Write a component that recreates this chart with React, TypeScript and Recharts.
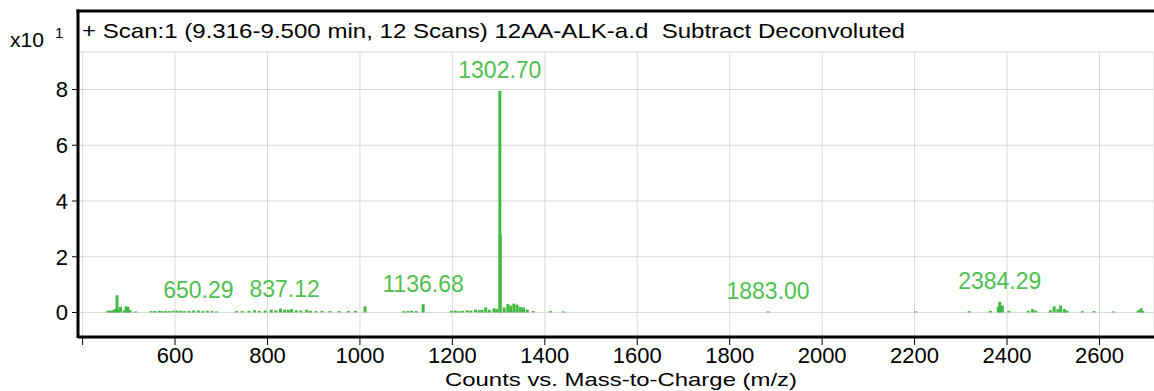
import React from "react";
import {
  ComposedChart,
  Scatter,
  ErrorBar,
  LabelList,
  XAxis,
  YAxis,
  CartesianGrid,
} from "recharts";

// deconvoluted stick spectrum, intensities in units of x10^1 counts
const PEAK_MZ = [
  455, 460, 466, 470, 474.5, 478, 482, 490, 494, 498, 503, 515,
  548, 556, 566, 572, 580, 588, 596, 604, 612, 620, 630, 640, 650.29, 660, 670, 680, 690,
  733, 745, 760, 772, 782, 795, 808, 818, 828, 837.12, 845, 852, 862, 872, 885, 893, 905, 918, 935, 955, 975, 990, 1011,
  1095, 1104, 1112, 1122, 1136.68,
  1198, 1206, 1214, 1222, 1232, 1240, 1250, 1258, 1264, 1272, 1280, 1290, 1296,
  1302.7, 1303.6, 1312, 1320, 1326, 1333, 1340, 1347, 1354, 1362, 1375, 1412, 1440,
  1883.0,
  2202, 2318, 2364, 2381, 2384.29, 2390, 2404, 2446, 2455, 2462,
  2494, 2502, 2510, 2516, 2524, 2530, 2563, 2588, 2630, 2684, 2690, 2694,
];
const PEAK_HEIGHT = [
  0.06, 0.07, 0.08, 0.12, 0.62, 0.1, 0.2, 0.08, 0.22, 0.2, 0.08, 0.04,
  0.05, 0.05, 0.06, 0.05, 0.06, 0.05, 0.06, 0.07, 0.06, 0.05, 0.06, 0.07, 0.07, 0.05, 0.06, 0.05, 0.04,
  0.05, 0.05, 0.06, 0.08, 0.06, 0.07, 0.1, 0.08, 0.14, 0.1, 0.1, 0.12, 0.08, 0.07, 0.1, 0.06, 0.05, 0.06, 0.05, 0.05, 0.05, 0.06, 0.22,
  0.05, 0.05, 0.06, 0.05, 0.3,
  0.06, 0.07, 0.05, 0.06, 0.08, 0.07, 0.1, 0.08, 0.09, 0.18, 0.1, 0.15, 0.12,
  7.95, 2.82, 0.18, 0.3, 0.25, 0.32, 0.28, 0.2, 0.18, 0.1, 0.05, 0.05, 0.04,
  0.04,
  0.04, 0.05, 0.06, 0.2, 0.38, 0.25, 0.06, 0.06, 0.12, 0.07,
  0.08, 0.22, 0.12, 0.25, 0.12, 0.06, 0.05, 0.05, 0.04, 0.08, 0.15, 0.05,
];
const LABELED_MZ = [650.29, 837.12, 1136.68, 1302.7, 1883.0, 2384.29];

const X_TICKS = [400, 600, 800, 1000, 1200, 1400, 1600, 1800, 2000, 2200, 2400, 2600];
const Y_TICKS = [0, 2, 4, 6, 8];

const FONT = "Arial, 'Liberation Sans', Helvetica, sans-serif";
const GREEN = "#42b942";
const LABEL_GREEN = "#4fbf4f";

const peaks = PEAK_MZ.map((mz, i) => ({ mz, base: 0, err: [0, PEAK_HEIGHT[i]] }));
const labeled = LABELED_MZ.map((mz) => ({
  mz,
  h: PEAK_HEIGHT[PEAK_MZ.indexOf(mz)],
  label: mz.toFixed(2),
}));

// 400 gets a tick mark but no label, like the original
const XTick = ({ x, y, payload }: any) => {
  if (payload.value === 400) return null;
  return (
    <text x={x} y={y} dy="0.71em" textAnchor="middle" fontSize={22} fill="#000" fontFamily={FONT}>
      {payload.value}
    </text>
  );
};

export default function App() {
  return (
    <div style={{ position: "absolute", left: 0, top: 0, width: 1154, height: 391, background: "#fff" }}>
      <ComposedChart
        width={1154}
        height={391}
        margin={{ top: 52, right: 0, bottom: 0, left: 0 }}
        style={{ fontFamily: FONT }}
      >
        <CartesianGrid stroke="#d9d9d9" strokeWidth={1} />
        <XAxis
          type="number"
          dataKey="mz"
          domain={[390, 2718]}
          ticks={X_TICKS}
          allowDataOverflow
          height={54}
          tickSize={8}
          tickMargin={2}
          tick={<XTick />}
          axisLine={{ stroke: "#000", strokeWidth: 3 }}
          tickLine={{ stroke: "#000", strokeWidth: 1 }}
        />
        <YAxis
          type="number"
          domain={[-0.879, 9.345]}
          ticks={Y_TICKS}
          allowDataOverflow
          width={78}
          axisLine={false}
          tickSize={6}
          tickMargin={4}
          tickLine={{ stroke: "#000", strokeWidth: 1 }}
          tick={{ fontSize: 22, fill: "#000" }}
        />
        <Scatter data={peaks} dataKey="base" shape={() => <g />} isAnimationActive={false}>
          <ErrorBar
            dataKey="err"
            direction="y"
            width={0}
            stroke={GREEN}
            strokeWidth={3}
            isAnimationActive={false}
          />
        </Scatter>
        <Scatter data={labeled} dataKey="h" shape={() => <g />} isAnimationActive={false}>
          <LabelList
            dataKey="label"
            position="top"
            offset={8}
            fill={LABEL_GREEN}
            fontSize={23}
            fontFamily={FONT}
          />
        </Scatter>
      </ComposedChart>
      <svg
        width={1154}
        height={391}
        style={{ position: "absolute", left: 0, top: 0, pointerEvents: "none" }}
      >
        <line x1={78} y1={9.5} x2={78} y2={338} stroke="#000" strokeWidth={3} />
        <line x1={76.5} y1={11} x2={1154} y2={11} stroke="#000" strokeWidth={3} />
        <text
          x={82}
          y={38}
          fontSize={21}
          fontFamily={FONT}
          fill="#000"
          textLength={823}
          lengthAdjust="spacingAndGlyphs"
          style={{ whiteSpace: "pre" }}
        >
          + Scan:1 (9.316-9.500 min, 12 Scans) 12AA-ALK-a.d  Subtract Deconvoluted
        </text>
        <text x={10} y={47} fontSize={21} fontFamily={FONT} fill="#000">x10</text>
        <text x={55} y={38} fontSize={15} fontFamily={FONT} fill="#000">1</text>
        <text
          x={445}
          y={386}
          fontSize={19}
          fontFamily={FONT}
          fill="#000"
          textLength={352}
          lengthAdjust="spacingAndGlyphs"
        >
          Counts vs. Mass-to-Charge (m/z)
        </text>
      </svg>
    </div>
  );
}
